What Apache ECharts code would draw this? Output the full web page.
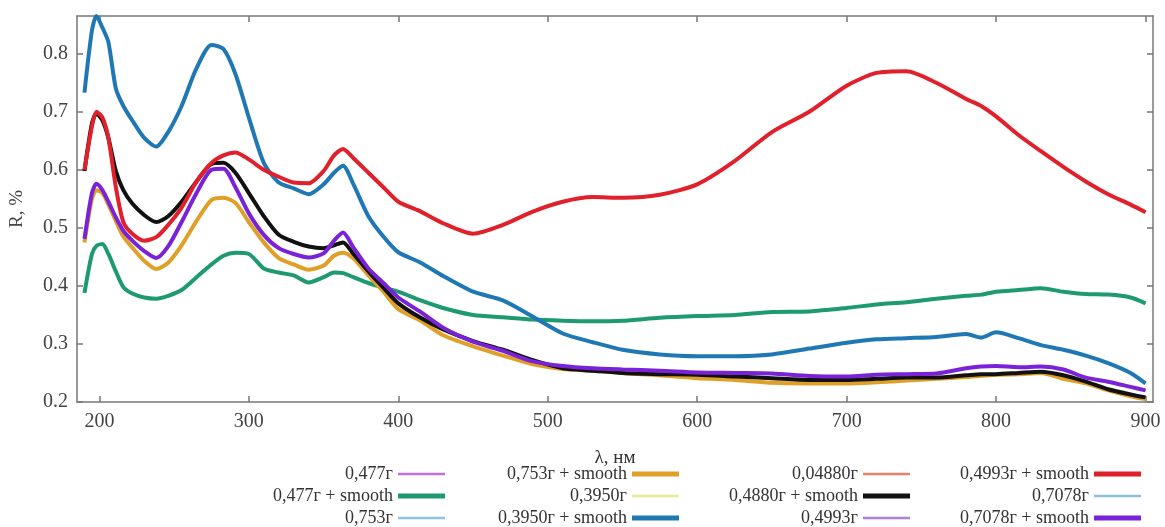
<!DOCTYPE html>
<html>
<head>
<meta charset="utf-8">
<script src="https://cdn.jsdelivr.net/npm/echarts@6.0.0/dist/echarts.min.js"></script>
<style>
html, body { margin: 0; padding: 0; background: #fff; }
#main { width: 1165px; height: 527px; }
</style>
</head>
<body>
<div id="main"></div>
<script>
// wavelengths, nm
let wl = [190,195,198,202,206,211,216,222,230,238,246,255,265,275,283,291,300,310,320,330,340,350,357,363,370,380,390,400,415,430,450,470,490,510,530,550,575,600,625,650,675,700,720,740,760,780,790,800,815,830,845,860,875,890,900];

// R, %
let r0477 = [0.388,0.455,0.469,0.472,0.455,0.425,0.398,0.387,0.380,0.378,0.383,0.393,0.415,0.437,0.452,0.457,0.455,0.430,0.423,0.418,0.406,0.415,0.423,0.422,0.415,0.405,0.397,0.390,0.375,0.362,0.350,0.346,0.342,0.340,0.339,0.340,0.345,0.348,0.350,0.355,0.356,0.362,0.368,0.372,0.378,0.383,0.385,0.390,0.393,0.396,0.390,0.386,0.385,0.380,0.370];
let r0753 = [0.475,0.550,0.565,0.560,0.540,0.512,0.485,0.466,0.443,0.429,0.440,0.470,0.512,0.548,0.552,0.543,0.510,0.475,0.448,0.437,0.428,0.435,0.452,0.457,0.447,0.418,0.390,0.360,0.340,0.315,0.296,0.280,0.265,0.257,0.254,0.250,0.246,0.241,0.238,0.233,0.232,0.232,0.234,0.237,0.240,0.243,0.245,0.247,0.248,0.250,0.240,0.232,0.220,0.210,0.205];
let r3950 = [0.733,0.840,0.865,0.845,0.820,0.740,0.710,0.685,0.655,0.640,0.665,0.710,0.775,0.815,0.808,0.765,0.690,0.612,0.578,0.568,0.558,0.575,0.595,0.607,0.575,0.520,0.485,0.458,0.440,0.417,0.390,0.375,0.347,0.318,0.303,0.290,0.282,0.279,0.279,0.282,0.292,0.302,0.308,0.310,0.312,0.317,0.311,0.320,0.310,0.298,0.290,0.280,0.267,0.250,0.232];
let r4880 = [0.598,0.680,0.697,0.685,0.655,0.598,0.565,0.542,0.522,0.510,0.520,0.545,0.580,0.610,0.612,0.595,0.560,0.520,0.488,0.476,0.468,0.465,0.470,0.475,0.455,0.425,0.397,0.370,0.345,0.325,0.305,0.290,0.272,0.258,0.254,0.250,0.248,0.247,0.244,0.241,0.238,0.238,0.240,0.242,0.242,0.246,0.248,0.248,0.250,0.252,0.246,0.235,0.222,0.213,0.208];
let r4993 = [0.600,0.675,0.700,0.690,0.655,0.570,0.510,0.490,0.478,0.484,0.505,0.535,0.580,0.612,0.625,0.630,0.618,0.600,0.588,0.578,0.577,0.598,0.625,0.636,0.620,0.595,0.570,0.545,0.528,0.508,0.490,0.505,0.528,0.545,0.553,0.552,0.557,0.575,0.615,0.665,0.700,0.745,0.767,0.770,0.750,0.722,0.710,0.692,0.660,0.632,0.605,0.580,0.558,0.540,0.527];
let r7078 = [0.481,0.560,0.576,0.565,0.545,0.518,0.495,0.478,0.460,0.448,0.468,0.510,0.560,0.600,0.602,0.570,0.525,0.488,0.465,0.455,0.449,0.456,0.478,0.492,0.466,0.430,0.405,0.380,0.355,0.328,0.304,0.288,0.270,0.262,0.258,0.256,0.254,0.251,0.250,0.249,0.245,0.244,0.247,0.248,0.249,0.258,0.261,0.262,0.260,0.261,0.256,0.242,0.235,0.226,0.220];

let xTicks = [200,300,400,500,600,700,800,900];
let yTicks = [0.2,0.3,0.4,0.5,0.6,0.7,0.8];

let names = ['0,477г','0,477г + smooth','0,753г','0,753г + smooth','0,3950г','0,3950г + smooth',
             '0,04880г','0,4880г + smooth','0,4993г','0,4993г + smooth','0,7078г','0,7078г + smooth'];
let values = [r0477,r0477,r0753,r0753,r3950,r3950,r4880,r4880,r4993,r4993,r7078,r7078];
let colors = ['#c070e0','#1e9a70','#8cc4e8','#e0a028','#ece89a','#1f78b4',
              '#e8806c','#111111','#b080d8','#e0202a','#8cc0e0','#7a22d8'];

let legRight = [720,486,255,24];
let legTop = [465,487,509];
let fnt = 'Liberation Serif';

function drawf() {
    let chart = echarts.init(document.getElementById('main'));

    let series = [];
    let legends = [];
    for (let i = 0; i < names.length; i++) {
        let thick = i % 2 === 1;
        series.push({
            name: names[i],
            type: 'line',
            data: wl.map((x, k) => [x, values[i][k]]),
            symbol: 'none',
            smooth: 0.25,
            z: thick ? 3 : 2,
            lineStyle: { color: colors[i], width: thick ? 4 : 2 },
            itemStyle: { color: colors[i] }
        });
        legends.push({
            data: [names[i]],
            align: 'right',
            icon: 'rect',
            right: legRight[Math.floor(i / 3)],
            top: legTop[i % 3],
            padding: 0,
            itemWidth: 47,
            itemHeight: thick ? 5 : 2.5,
            selectedMode: false,
            textStyle: { fontFamily: fnt, fontSize: 18, color: '#333' }
        });
    }

    let axLine = { show: true, lineStyle: { color: '#777', width: 1.5 } };
    let tick = { show: true, inside: true, length: 6, lineStyle: { color: '#777', width: 1.5 } };

    let option = {
        backgroundColor: '#fff',
        animation: false,
        grid: { left: 77, right: 12, top: 16, bottom: 125 },
        legend: legends,
        xAxis: [{
            type: 'value', min: 185, max: 905, position: 'bottom',
            name: 'λ, нм', nameLocation: 'middle', nameGap: 47,
            nameTextStyle: { fontFamily: fnt, fontSize: 19, color: '#333' },
            axisLine: axLine,
            axisTick: Object.assign({ customValues: xTicks }, tick),
            axisLabel: { customValues: xTicks, margin: 10, fontFamily: fnt, fontSize: 20, color: '#444' },
            splitLine: { show: false }
        }, {
            type: 'value', min: 185, max: 905, position: 'top',
            axisLine: axLine,
            axisTick: Object.assign({ customValues: xTicks }, tick),
            axisLabel: { show: false },
            splitLine: { show: false }
        }],
        yAxis: [{
            type: 'value', min: 0.2, max: 0.865, position: 'left',
            name: 'R, %', nameLocation: 'middle', nameGap: 50,
            nameTextStyle: { fontFamily: fnt, fontSize: 19, color: '#444' },
            axisLine: axLine,
            axisTick: Object.assign({ customValues: yTicks }, tick),
            axisLabel: { customValues: yTicks, margin: 9, fontFamily: fnt, fontSize: 20, color: '#444',
                         formatter: (v) => v.toFixed(1) },
            splitLine: { show: false }
        }, {
            type: 'value', min: 0.2, max: 0.865, position: 'right',
            axisLine: axLine,
            axisTick: Object.assign({ customValues: yTicks }, tick),
            axisLabel: { show: false },
            splitLine: { show: false }
        }],
        series: series
    };
    chart.setOption(option);
}

drawf();
</script>
</body>
</html>
